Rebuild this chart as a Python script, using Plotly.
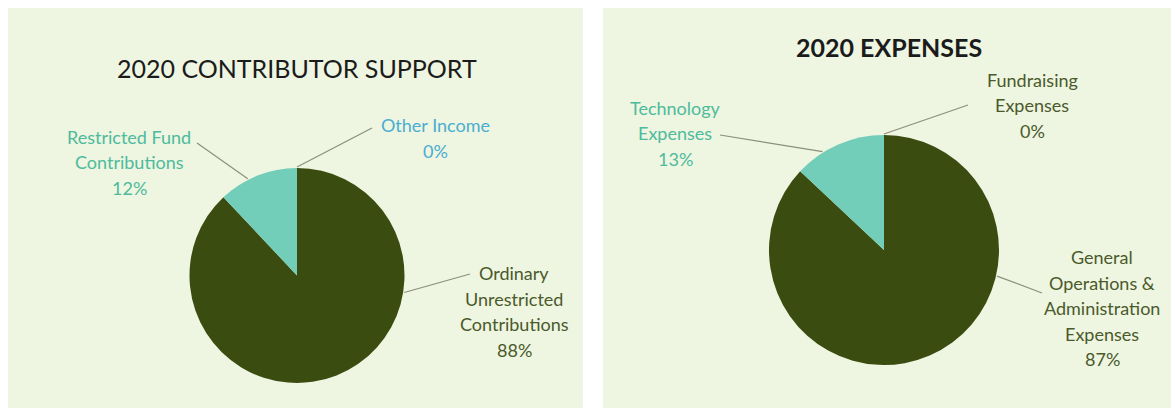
import math
import plotly.graph_objects as go

# ---------------- data ----------------
left_title = "2020 CONTRIBUTOR SUPPORT"
left_labels = ["Ordinary Unrestricted Contributions", "Restricted Fund Contributions", "Other Income"]
left_values = [88, 12, 0]
left_label_lines = [["Ordinary", "Unrestricted", "Contributions"],
                    ["Restricted Fund", "Contributions"],
                    ["Other Income"]]

right_title = "2020 EXPENSES"
right_labels = ["General Operations & Administration Expenses", "Technology Expenses", "Fundraising Expenses"]
right_values = [87, 13, 0]
right_label_lines = [["General", "Operations &", "Administration", "Expenses"],
                     ["Technology", "Expenses"],
                     ["Fundraising", "Expenses"]]

# ---------------- styles / layout ----------------
W, H = 1171, 408
PANEL_BG = "#eef5e1"
slice_colors = ["#3b4c10", "#72cdb9", "#5fb6d6"]
left_text_colors = ["#4a5a2b", "#4dbb9c", "#4aaed0"]
right_text_colors = ["#4a5a2b", "#4dbb9c", "#4a5a2b"]
LEADER_COLOR = "#8c8f7c"
FONT = "Lato"
LABEL_SIZE = 18
LINE_GAP = 25.5

panels = [
    dict(title=left_title, title_bold=False, title_size=25, title_xy=(297, 68),
         rect=(8, 8, 583, 408), center=(297, 275.5), r=107.5,
         labels=left_labels, values=left_values, lines=left_label_lines,
         text_colors=left_text_colors,
         # text centre x, first line y, leader start (px), leader angle (deg clockwise from top)
         label_pos=[(514, 273, (470, 274), 99),
                    (129, 137, (197, 143), -27),
                    (435, 125, (372, 128), 0)]),
    dict(title=right_title, title_bold=True, title_size=25, title_xy=(889, 47),
         rect=(603, 8, 1171, 408), center=(884, 250), r=115,
         labels=right_labels, values=right_values, lines=right_label_lines,
         text_colors=right_text_colors,
         label_pos=[(1102, 257, (1042, 293), 103),
                    (675, 108, (720, 135), -32),
                    (1032, 80, (968, 105), 0)]),
]


def px(x):
    return x / W


def py(y):
    return 1 - y / H


fig = go.Figure()
shapes = []
annotations = []

for p in panels:
    x0, y0, x1, y1 = p["rect"]
    shapes.append(dict(type="rect", xref="paper", yref="paper", x0=px(x0), x1=px(x1),
                       y0=py(y1), y1=py(y0), fillcolor=PANEL_BG, line=dict(width=0),
                       layer="below"))
    cx, cy = p["center"]
    r = p["r"]
    fig.add_trace(go.Pie(
        labels=p["labels"], values=p["values"], sort=False, direction="clockwise",
        rotation=0, textinfo="none", hoverinfo="label+percent", showlegend=False,
        marker=dict(colors=slice_colors, line=dict(width=0)),
        domain=dict(x=[px(cx - r), px(cx + r)], y=[py(cy + r), py(cy - r)]),
    ))
    total = sum(p["values"])
    for i, (tx, ty, (sx, sy), ang) in enumerate(p["label_pos"]):
        pct = f"{round(p['values'][i] / total * 100)}%"
        lines = p["lines"][i] + [pct]
        for k, line in enumerate(lines):
            annotations.append(dict(
                xref="paper", yref="paper", x=px(tx), y=py(ty + k * LINE_GAP),
                xanchor="center", yanchor="middle", showarrow=False, text=line,
                font=dict(family=FONT, size=LABEL_SIZE, color=p["text_colors"][i])))
        a = math.radians(ang)
        ex = cx + (r + 1) * math.sin(a)
        ey = cy - (r + 1) * math.cos(a)
        shapes.append(dict(type="line", xref="paper", yref="paper",
                           x0=px(sx), y0=py(sy), x1=px(ex), y1=py(ey),
                           line=dict(color=LEADER_COLOR, width=1.2)))
    t = f"<b>{p['title']}</b>" if p["title_bold"] else p["title"]
    annotations.append(dict(xref="paper", yref="paper", x=px(p["title_xy"][0]),
                            y=py(p["title_xy"][1]), xanchor="center", yanchor="middle",
                            showarrow=False, text=t,
                            font=dict(family=FONT, size=p["title_size"], color="#1b1b1b")))

fig.update_layout(width=W, height=H, margin=dict(l=0, r=0, t=0, b=0),
                  paper_bgcolor="white", plot_bgcolor="white",
                  shapes=shapes, annotations=annotations)

fig.write_html("out.html", config={"displayModeBar": False},
               post_script="document.body.style.margin='0';document.body.style.overflow='hidden';")
